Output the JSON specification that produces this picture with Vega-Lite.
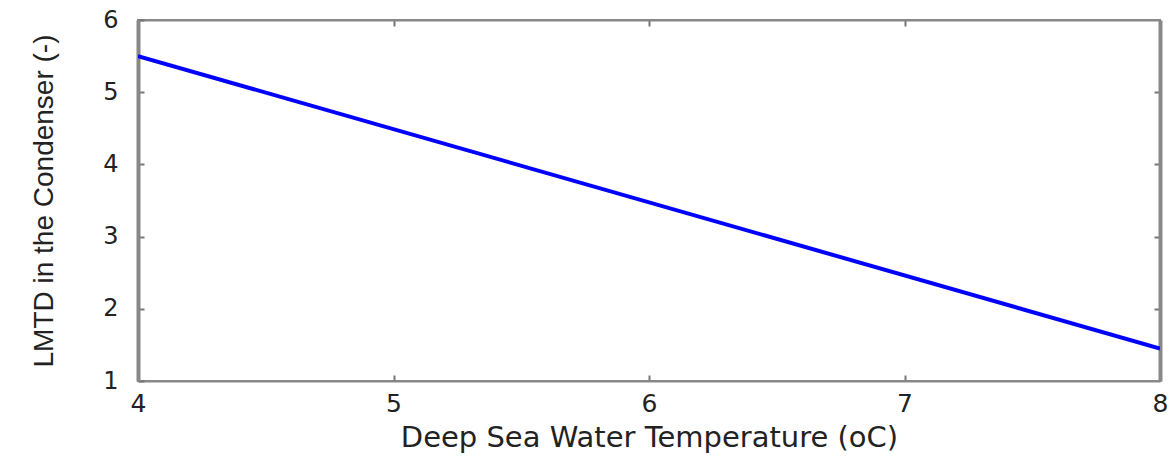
{
  "$schema": "https://vega.github.io/schema/vega-lite/v6.json",
  "autosize": "none",
  "width": 1022,
  "height": 361,
  "padding": {"left": 138, "top": 20, "right": 14, "bottom": 76},
  "background": "white",
  "config": {
    "view": {"stroke": "#888888", "strokeWidth": 2},
    "font": "Liberation Sans",
    "axis": {
      "grid": false,
      "domainColor": "#888888",
      "domainWidth": 2,
      "tickColor": "#777777",
      "tickSize": -6,
      "tickWidth": 2,
      "titleFontWeight": "normal",
      "titleColor": "#222222",
      "labelColor": "#222222"
    }
  },
  "data": {"values": [
    {"t": 4, "lmtd": 5.5},
    {"t": 8, "lmtd": 1.45}
  ]},
  "layer": [
    {
      "mark": {"type": "line", "color": "#0000ff", "strokeWidth": 4, "clip": true},
      "encoding": {
        "x": {"field": "t", "type": "quantitative", "scale": {"domain": [4, 8], "nice": false},
          "axis": {"values": [4, 5, 6, 7, 8], "title": "Deep Sea Water Temperature (oC)", "titleFont": "DejaVu Sans", "titleFontSize": 29, "titlePadding": 7, "labelFont": "DejaVu Sans", "labelFontSize": 25, "labelPadding": 16, "labelFlush": false, "domainWidth": 2}},
        "y": {"field": "lmtd", "type": "quantitative", "scale": {"domain": [1, 6], "nice": false, "zero": false},
          "axis": {"values": [1, 2, 3, 4, 5, 6], "title": "LMTD in the Condenser (-)", "titleFont": "Liberation Sans", "titleFontSize": 28, "titlePadding": 44, "labelFont": "DejaVu Sans", "labelFontSize": 24, "labelPadding": 26, "domainWidth": 4}}
      }
    },
    {
      "mark": {"type": "rule", "opacity": 0},
      "encoding": {
        "x": {"field": "t", "type": "quantitative", "axis": {"orient": "top", "values": [5, 6, 7], "labels": false, "title": null}},
        "y": {"field": "lmtd", "type": "quantitative", "axis": {"orient": "right", "values": [2, 3, 4, 5], "labels": false, "title": null, "domainWidth": 4}}
      }
    }
  ],
  "resolve": {"axis": {"x": "independent", "y": "independent"}}
}
